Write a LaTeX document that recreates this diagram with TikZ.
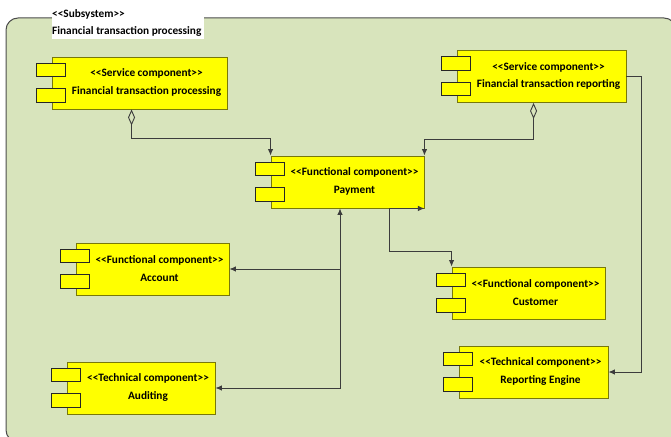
\documentclass[tikz,border=0pt]{standalone}
\usepackage{fontspec}
\setmainfont{Carlito}
\usetikzlibrary{arrows.meta,calc}

\definecolor{subsysbg}{RGB}{216,228,188}
\definecolor{compfill}{RGB}{255,255,0}
\definecolor{compedge}{RGB}{120,120,10}
\definecolor{wire}{RGB}{60,60,60}

\tikzset{
  >={Latex[length=6.5pt,width=5.5pt]},
  compbody/.style={draw=compedge, fill=compfill, line width=0.9pt,
                   minimum height=52pt, inner sep=0pt},
  comptext/.style={font=\bfseries\fontsize{11.3}{17.5}\selectfont,
                   align=center, inner sep=0pt},
  port/.style={draw=black!85, fill=compfill, line width=0.8pt},
  conn/.style={draw=wire, line width=0.9pt},
  hdrtext/.style={font=\bfseries\fontsize{11.3}{12}\selectfont,
                  anchor=west, inner sep=0pt},
}

% component: name, centre, width, stereotype, title
\newcommand\component[5]{%
  \node[compbody, minimum width=#3] (#1) at (#2) {};
  \node[comptext] (#1-label) at ([xshift=7pt,yshift=0.5pt]#1.center) {<{}<#4>{}>\\#5};
  \draw[port] ([xshift=-15pt,yshift=-6.5pt]#1.north west) rectangle ++(28.5pt,-13.5pt);
  \draw[port] ([xshift=-15pt,yshift=-32pt]#1.north west) rectangle ++(28.5pt,-13.5pt);
}

\begin{document}
\begin{tikzpicture}[x=1pt,y=-1pt]
  \useasboundingbox (0,0) rectangle (671,436);

  % subsystem frame and its header
  \draw[draw=black!70, line width=1pt, fill=subsysbg, rounded corners=12pt]
    (6,18) rectangle (676,442);
  \fill[white] (52,0) rectangle (204,39);
  \node[hdrtext] (sys-stereo) at (52,14) {<{}<Subsystem>{}>};
  \node[hdrtext] (sys-name) at (52,31) {Financial transaction processing};

  % components
  \component{ftp}{139.5,83}{175pt}{Service component}{Financial transaction processing}
  \component{ftr}{541.5,76.5}{169pt}{Service component}{Financial transaction reporting}
  \component{pay}{347.5,182}{153pt}{Functional component}{Payment}
  \component{acc}{152.5,269}{153pt}{Functional component}{Account}
  \component{aud}{141,388}{148pt}{Technical component}{Auditing}
  \component{cust}{528.5,293}{153pt}{Functional component}{Customer}
  \component{rep}{533.5,372}{149pt}{Technical component}{Reporting Engine}

  % aggregations into Payment
  \draw[conn, {Diamond[open,length=16pt,width=7pt]}->]
    ([xshift=80pt]ftp.south west) -- ++(0,29) -| (pay.north west);
  \draw[conn, {Diamond[open,length=16pt,width=7pt]}->]
    ([xshift=77pt]ftr.south west) -- ++(0,36) -| (pay.north east);

  % reporting link
  \draw[conn, ->] (ftr.east) -- ++(15,0) |- (rep.east);

  % Payment to Account and Auditing
  \coordinate (jn) at ([xshift=-7.5pt]pay.south);
  \draw[conn, <->] (jn) |- (aud.east);
  \draw[conn, ->] (jn |- acc.east) -- (acc.east);

  % Payment to Customer
  \draw[conn, <->] (pay.south east) -- ++(-35,0) |- ([yshift=15pt]cust.north west)
    -- (cust.north west);
\end{tikzpicture}
\end{document}
